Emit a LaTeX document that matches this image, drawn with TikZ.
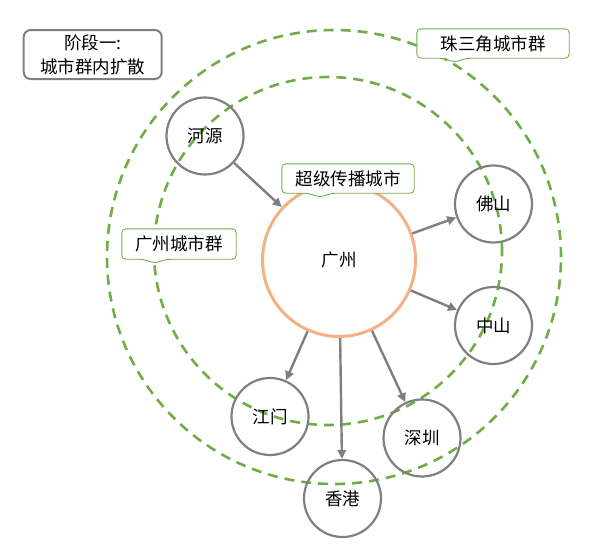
\documentclass[tikz,border=0pt]{standalone}
\usepackage{fontspec}
\setmainfont{Noto Sans CJK SC}
\usetikzlibrary{arrows.meta}
\definecolor{cgray}{HTML}{7F7F7F}
\definecolor{cgreen}{HTML}{70AD47}
\definecolor{corange}{HTML}{F4B183}
\newcommand\tagoutline[2]{%
  \draw[tagline] (#1.north) -- (#1.north east) -- (#1.south east)
    -- ([xshift=#2pt+12pt]#1.south west)
    -- ([xshift=#2pt,yshift=-4pt]#1.south west)
    -- ([xshift=#2pt-12pt]#1.south west)
    -- (#1.south west) -- (#1.north west) -- cycle;}
\begin{document}
\begin{tikzpicture}[x=1pt,y=-1pt,
  every node/.style={font=\fontsize{17.5}{24}\selectfont},
  city/.style={circle,draw=cgray,line width=2.2pt,minimum size=77pt,inner sep=0pt},
  hub/.style={circle,draw=corange,line width=3pt,minimum size=153pt,inner sep=0pt},
  flow/.style={draw=cgray,line width=2.4pt,-{Triangle[length=9pt,width=8.5pt]}},
  zone/.style={draw=cgreen,line width=2.6pt,dash pattern=on 10pt off 7pt},
  tagbox/.style={fill=white,rounded corners=4pt,minimum height=29pt,inner sep=0pt},
  tagline/.style={draw=cgreen,line width=0.9pt,rounded corners=4pt},
  stagebox/.style={draw=cgray,line width=2pt,rounded corners=7pt,align=center,
    minimum width=138pt,minimum height=49pt,inner sep=0pt}
]
\useasboundingbox (0,0) rectangle (605,547);
% dashed zones
\draw[zone] (334,257) circle[radius=227pt];
\draw[zone] (328,251) circle[radius=174pt];
% cities
\node[hub]  (gz) at (339,260) {广州};
\node[city] (hy) at (205,136) {河源};
\node[city] (fs) at (493.5,204) {佛山};
\node[city] (zs) at (493.5,325.5) {中山};
\node[city] (jm) at (270,416.5) {江门};
\node[city] (sz) at (422,438) {深圳};
\node[city] (hk) at (342.5,498.5) {香港};
% flows
\draw[flow] (hy) -- (gz);
\draw[flow] (gz) -- (fs);
\draw[flow] (gz) -- (zs);
\draw[flow] (gz) -- (jm);
\draw[flow] (gz) -- (hk);
\draw[flow] (gz) -- (sz);
% labels
\node[tagbox,minimum width=132pt] (super) at (348,178.5) {超级传播城市};
\tagoutline{super}{38}
\node[tagbox,minimum width=152pt] (prd) at (493,43.5) {珠三角城市群};
\tagoutline{prd}{38}
\node[tagbox,minimum width=114pt,minimum height=30pt] (gzc) at (179,244) {广州城市群};
\tagoutline{gzc}{33}
\node[stagebox] (stage) at (92.7,54.5) {阶段一:\\城市群内扩散};
\end{tikzpicture}
\end{document}
